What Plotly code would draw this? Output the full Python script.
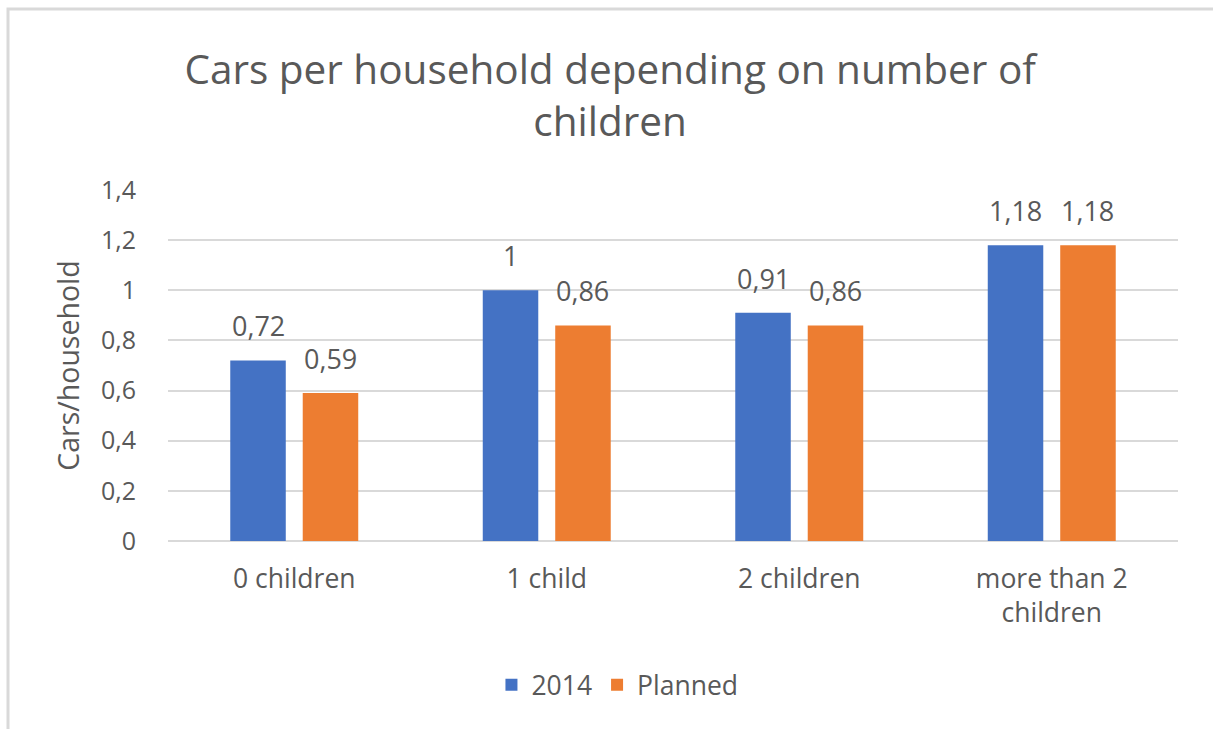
import plotly.graph_objects as go

categories = ["0 children", "1 child", "2 children", "more than 2<br>children"]
values_2014 = [0.72, 1.0, 0.91, 1.18]
values_planned = [0.59, 0.86, 0.86, 1.18]
series_names = ["2014", "Planned"]
colors = ["#4472C4", "#ED7D31"]

FONT = "Open Sans"
GREY = "#595959"
BARGAP = 0.426
BARGROUPGAP = 0.234
PLOT_W = 1010


def fmt(v):
    return ("%g" % v).replace(".", ",")


fig = go.Figure()
for name, vals, col in zip(series_names, [values_2014, values_planned], colors):
    fig.add_trace(go.Bar(
        x=categories, y=vals, name=name,
        marker=dict(color=col, line=dict(width=0)),
    ))

# data labels, placed over each bar (offset to the bar's slot within the group)
cat_w = PLOT_W / len(categories)
slot = cat_w * (1 - BARGAP) / 2
for k, vals in enumerate([values_2014, values_planned]):
    shift = (k - 0.5) * slot
    for c, v in zip(categories, vals):
        fig.add_annotation(
            x=c, y=v, text=fmt(v), showarrow=False,
            xshift=shift, yshift=14, yanchor="bottom",
            font=dict(family=FONT, size=27, color=GREY),
        )

fig.update_layout(
    width=1213, height=729,
    margin=dict(l=168, r=35, t=190, b=188, autoexpand=False),
    paper_bgcolor="white", plot_bgcolor="white",
    separators=", ",
    barmode="group", bargap=BARGAP, bargroupgap=BARGROUPGAP,
    font=dict(family=FONT, color=GREY, size=25),
    title=dict(
        text="Cars per household depending on number of<br>children",
        x=0.503, xanchor="center", y=0.885, yanchor="middle",
        font=dict(family=FONT, size=40.5, color=GREY),
    ),
    xaxis=dict(
        showgrid=False, showline=False, zeroline=False,
        tickfont=dict(family=FONT, size=26.5, color=GREY),
        ticks="outside", ticklen=14, tickcolor="rgba(0,0,0,0)",
    ),
    yaxis=dict(
        range=[0, 1.4], dtick=0.2, tick0=0,
        showgrid=True, gridcolor="#d9d9d9", gridwidth=2,
        zeroline=True, zerolinecolor="#d9d9d9", zerolinewidth=2,
        showline=False,
        tickfont=dict(family=FONT, size=25, color=GREY),
        ticks="outside", ticklen=26, tickcolor="rgba(0,0,0,0)",
        title=dict(text="Cars/household", standoff=12,
                   font=dict(family=FONT, size=28.5, color=GREY)),
    ),
    legend=dict(
        orientation="h", x=0.445, xanchor="center", y=-0.41, yanchor="middle",
        font=dict(family=FONT, size=26.5, color=GREY),
        itemwidth=30,
    ),
    showlegend=True,
)

# chart-area border (Excel style), extends past the right/bottom edge
fig.add_shape(type="rect", xref="paper", yref="paper",
              x0=(8 - 168) / 1010, x1=(1240 - 168) / 1010,
              y0=(541 - 760) / 351, y1=(541 - 9) / 351,
              line=dict(color="#d9d9d9", width=3), layer="below")

fig.write_html("out.html")
